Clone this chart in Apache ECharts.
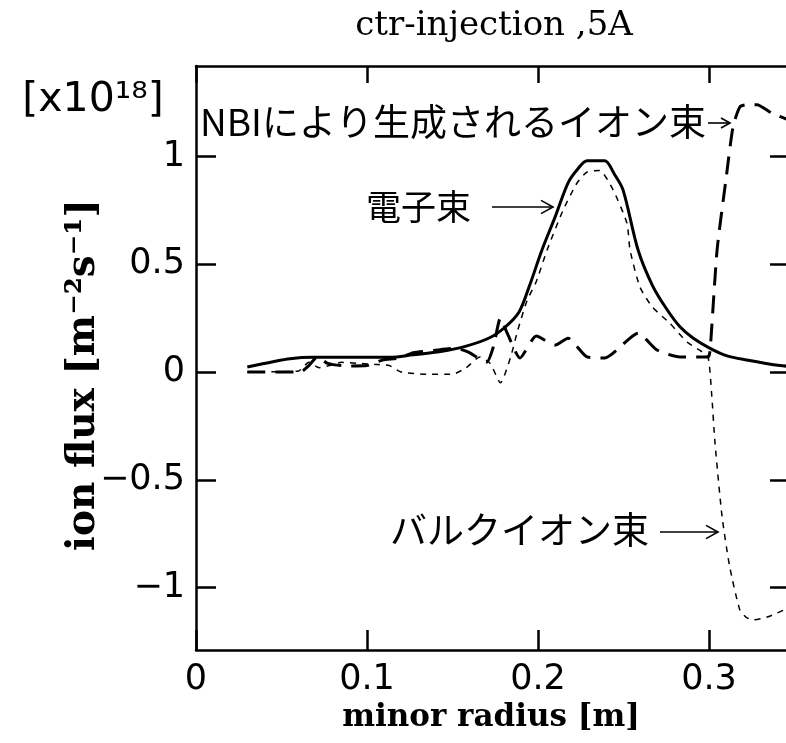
<!DOCTYPE html>
<html>
<head>
<meta charset="utf-8">
<script src="https://cdn.jsdelivr.net/npm/echarts@6/dist/echarts.min.js"></script>
<style>html,body{margin:0;padding:0;background:#fff}#c{width:786px;height:743px}</style>
</head>
<body>
<div id="c"></div>
<script>
// ---- data ----
var titleText = 'ctr-injection ,5A';
var xTicks = [0, 0.1, 0.2, 0.3];
var yTicks = [-1, -0.5, 0, 0.5, 1];

// electron flux (solid)
var xElectron = [0.030, 0.045, 0.055, 0.068, 0.090, 0.1135, 0.127, 0.143, 0.158, 0.172, 0.181, 0.189, 0.195, 0.2023, 0.210, 0.2175, 0.223, 0.2287, 0.239, 0.2445, 0.2497, 0.2585, 0.267, 0.2754, 0.283, 0.2906, 0.3006, 0.3105, 0.322, 0.3415, 0.350];
var yElectron = [0.023, 0.048, 0.062, 0.068, 0.068, 0.068, 0.080, 0.095, 0.120, 0.160, 0.210, 0.280, 0.400, 0.566, 0.720, 0.877, 0.940, 0.980, 0.980, 0.920, 0.845, 0.566, 0.400, 0.290, 0.210, 0.158, 0.110, 0.075, 0.056, 0.030, 0.025];

// NBI-produced ion flux (long dash)
var xNBI = [0.030, 0.061, 0.066, 0.071, 0.077, 0.088, 0.100, 0.109, 0.119, 0.127, 0.139, 0.152, 0.159, 0.170, 0.174, 0.178, 0.182, 0.1895, 0.199, 0.210, 0.2175, 0.2287, 0.239, 0.2585, 0.2696, 0.283, 0.2994, 0.3006, 0.3047, 0.310, 0.314, 0.318, 0.322, 0.328, 0.337, 0.350];
var yNBI = [0.000, 0.000, 0.030, 0.070, 0.040, 0.028, 0.030, 0.055, 0.065, 0.090, 0.100, 0.110, 0.093, 0.046, 0.120, 0.250, 0.180, 0.065, 0.167, 0.125, 0.157, 0.070, 0.065, 0.180, 0.102, 0.070, 0.070, 0.100, 0.566, 0.900, 1.137, 1.230, 1.240, 1.240, 1.200, 1.160];

// bulk ion flux (short dash)
var xBulk = [0.030, 0.060, 0.066, 0.072, 0.078, 0.085, 0.095, 0.105, 0.113, 0.120, 0.135, 0.150, 0.158, 0.166, 0.172, 0.178, 0.184, 0.188, 0.1935, 0.199, 0.2053, 0.2146, 0.2228, 0.2287, 0.236, 0.2439, 0.252, 0.2538, 0.2596, 0.267, 0.277, 0.287, 0.2947, 0.2994, 0.3015, 0.3035, 0.3076, 0.312, 0.318, 0.322, 0.3257, 0.334, 0.345];
var yBulk = [0.000, 0.005, 0.045, 0.020, 0.030, 0.045, 0.040, 0.035, 0.030, 0.000, -0.010, -0.010, 0.020, 0.070, 0.040, -0.050, 0.070, 0.190, 0.330, 0.420, 0.566, 0.750, 0.877, 0.928, 0.935, 0.845, 0.690, 0.566, 0.394, 0.300, 0.227, 0.140, 0.100, 0.070, -0.100, -0.330, -0.670, -0.900, -1.104, -1.140, -1.150, -1.137, -1.100];

function pairs(xs, ys) { return xs.map(function (x, i) { return [x, ys[i]]; }); }
function fmtY(v) { return v < 0 ? '\u2212' + Math.abs(v) : String(v); }

var chart = echarts.init(document.getElementById('c'), null, { renderer: 'canvas' });
var axisLine = { show: true, onZero: false, lineStyle: { color: '#000', width: 2.5 } };
var labelFont = { color: '#000', fontFamily: 'DejaVu Sans', fontSize: 35 };

function arrow(x1, x2, y, head) {
  return [
    { type: 'polyline', shape: { points: [[x1, y], [x2, y]] }, style: { stroke: '#000', lineWidth: 1.6, fill: null } },
    { type: 'polyline', shape: { points: [[x2 - head, y - head * 0.55], [x2, y], [x2 - head, y + head * 0.55]] }, style: { stroke: '#000', lineWidth: 1.6, fill: null } }
  ];
}

var cjk = '"Noto Sans CJK JP", "DejaVu Sans", sans-serif';
var serif = '"DejaVu Serif", serif';

var graphics = [
  { type: 'text', x: 494, y: 26, style: { text: titleText, font: '34px ' + serif, fill: '#000', textAlign: 'center', textVerticalAlign: 'middle' } },
  { type: 'text', x: 93, y: 100, style: { text: '[x10\u00B9\u2078]', font: '41px "DejaVu Sans"', fill: '#000', textAlign: 'center', textVerticalAlign: 'middle' } },
  { type: 'text', x: 84, y: 375, rotation: Math.PI / 2, style: { text: 'ion flux [m\u207B\u00B2s\u207B\u00B9]', font: 'bold 39px ' + serif, fill: '#000', textAlign: 'center', textVerticalAlign: 'middle' } },
  { type: 'text', x: 491, y: 718, style: { text: 'minor radius [m]', font: 'bold 31px ' + serif, fill: '#000', textAlign: 'center', textVerticalAlign: 'middle' } },
  { type: 'text', x: 200, y: 122, style: { text: 'NBIにより生成されるイオン束', font: '37px ' + cjk, fill: '#000', textAlign: 'left', textVerticalAlign: 'middle' } },
  { type: 'text', x: 366, y: 207, style: { text: '電子束', font: '35px ' + cjk, fill: '#000', textAlign: 'left', textVerticalAlign: 'middle' } },
  { type: 'text', x: 390, y: 530, style: { text: 'バルクイオン束', font: '37px ' + cjk, fill: '#000', textAlign: 'left', textVerticalAlign: 'middle' } }
].concat(arrow(708, 730, 123, 9), arrow(492, 553, 207, 12), arrow(660, 718, 532, 12));

chart.setOption({
  animation: false,
  backgroundColor: '#fff',
  grid: { left: 196, right: 0, top: 66, height: 584, containLabel: false },
  xAxis: [
    { type: 'value', position: 'bottom', min: 0, max: 0.345,
      axisLine: axisLine, splitLine: { show: false },
      axisTick: { inside: true, length: 20, customValues: xTicks, lineStyle: { color: '#000', width: 2.5 } },
      axisLabel: Object.assign({ margin: 12, customValues: xTicks, formatter: function (v) { return String(v); } }, labelFont) },
    { type: 'value', position: 'top', min: 0, max: 0.345,
      axisLine: axisLine, splitLine: { show: false },
      axisTick: { inside: true, length: 17, customValues: xTicks, lineStyle: { color: '#000', width: 2.5 } },
      axisLabel: { show: false } }
  ],
  yAxis: [
    { type: 'value', position: 'left', min: -1.29, max: 1.42,
      axisLine: axisLine, splitLine: { show: false },
      axisTick: { inside: true, length: 20, customValues: yTicks, lineStyle: { color: '#000', width: 2.5 } },
      axisLabel: Object.assign({ margin: 11, customValues: yTicks, formatter: fmtY }, labelFont) },
    { type: 'value', position: 'right', min: -1.29, max: 1.42,
      axisLine: { show: false, onZero: false },
      splitLine: { show: false },
      axisTick: { show: true, inside: true, length: 16, customValues: yTicks, lineStyle: { color: '#000', width: 2.5 } },
      axisLabel: { show: false } }
  ],
  series: [
    { name: '電子束', type: 'line', data: pairs(xElectron, yElectron), showSymbol: false, smooth: 0.3,
      lineStyle: { color: '#000', width: 3, type: 'solid' } },
    { name: 'NBIにより生成されるイオン束', type: 'line', data: pairs(xNBI, yNBI), showSymbol: false, smooth: 0.2,
      lineStyle: { color: '#000', width: 3, type: [18, 10] } },
    { name: 'バルクイオン束', type: 'line', data: pairs(xBulk, yBulk), showSymbol: false, smooth: 0.2,
      lineStyle: { color: '#000', width: 1.5, type: [6, 6] } }
  ],
  graphic: graphics
});
</script>
</body>
</html>
